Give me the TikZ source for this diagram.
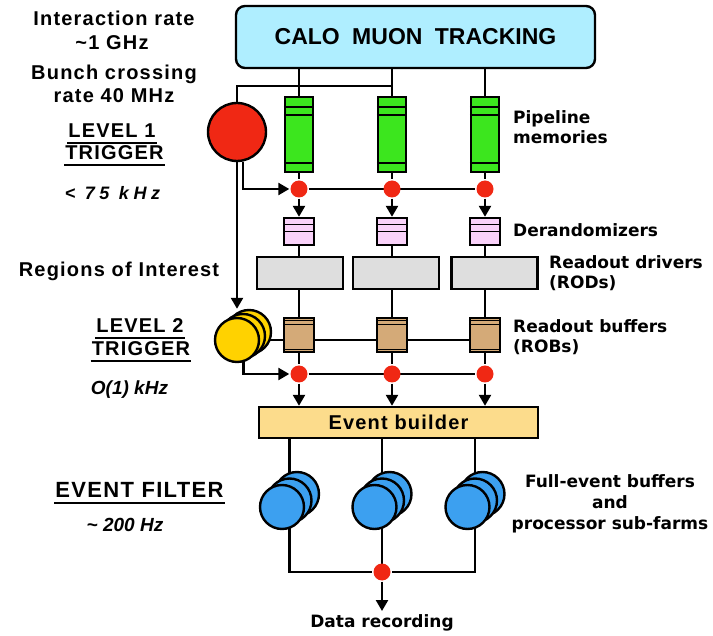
\documentclass[tikz,border=0pt]{standalone}
\usepackage{fontspec}
\setmainfont{Liberation Sans}
\newfontfamily\labfont[LetterSpace=6]{Liberation Sans}
\newfontfamily\widefont[LetterSpace=25]{Liberation Sans}
\newfontfamily\sidefont{DejaVu Sans}
\usetikzlibrary{arrows.meta,backgrounds}

\definecolor{detcol}{RGB}{175,238,255}
\definecolor{pipecol}{RGB}{60,230,30}
\definecolor{dotcol}{RGB}{240,40,20}
\definecolor{dercol}{RGB}{250,210,250}
\definecolor{rodcol}{RGB}{222,222,222}
\definecolor{robcol}{RGB}{212,170,120}
\definecolor{lvlcol}{RGB}{255,210,0}
\definecolor{ebcol}{RGB}{252,220,140}
\definecolor{efcol}{RGB}{60,160,240}

\tikzset{
  dettray/.style={draw, fill=detcol, rounded corners=9pt, minimum width=359pt, minimum height=62pt, inner sep=0pt, font=\fontsize{23}{27}\selectfont\bfseries},
  pipemem/.style={draw, fill=pipecol, minimum width=28pt, minimum height=75pt, inner sep=0pt},
  derand/.style={draw, fill=dercol, minimum width=30pt, minimum height=27pt, inner sep=0pt},
  roddrv/.style={draw, fill=rodcol, minimum width=86pt, minimum height=32pt, inner sep=0pt},
  robbuf/.style={draw, fill=robcol, minimum width=30pt, minimum height=34pt, inner sep=0pt},
  joint/.style={circle, fill=dotcol, minimum size=17pt, inner sep=0pt},
  lvlone/.style={circle, draw, fill=dotcol, minimum size=58pt, inner sep=0pt},
  lvltwo/.style={circle, draw, fill=lvlcol, minimum size=44pt, inner sep=0pt},
  farm/.style={circle, draw, fill=efcol, minimum size=44pt, inner sep=0pt},
  evbld/.style={draw, fill=ebcol, minimum width=279pt, minimum height=31pt, inner sep=0pt, font=\labfont\fontsize{20}{24}\selectfont\bfseries},
  wire/.style={line width=2.4pt},
  flow/.style={wire, -{Triangle[length=11pt,width=12pt]}},
  leftlab/.style={inner sep=0pt, text height=15pt, text depth=4pt, font=\labfont\fontsize{20}{24}\selectfont\bfseries},
  ratelab/.style={inner sep=0pt, text height=14pt, text depth=4pt, font=\fontsize{19}{23}\selectfont\bfseries\itshape},
  sidelab/.style={anchor=west, align=left, inner sep=0pt, font=\sidefont\fontsize{17}{20}\selectfont\bfseries},
}

\begin{document}
\begin{tikzpicture}[x=1pt,y=-1pt,line width=2.4pt]
    \useasboundingbox (0,0) rectangle (713,636);
    \node [dettray] (det) at (415.5,37) {CALO\hspace{6pt} MUON\hspace{6pt} TRACKING};
    \node [lvlone] (l1) at (237,132) {};
    \coordinate (jn) at (392,86);
    \foreach \c/\x in {1/299,2/392,3/485} {
        \node [pipemem] (pm\c) at (\x,134.5) {};
        \node [joint] (d\c) at (\x,189) {};
        \node [derand] (dr\c) at (\x,231.5) {};
        \node [robbuf] (rob\c) at (\x,335) {};
        \node [joint] (e\c) at (\x,374) {};
        \draw [line width=1.8pt] ([yshift=-11pt]pm\c.north west) -- ([yshift=-11pt]pm\c.north east);
        \draw [line width=1.8pt] ([yshift=-19pt]pm\c.north west) -- ([yshift=-19pt]pm\c.north east);
        \draw [line width=1.8pt] ([yshift=10pt]pm\c.south west) -- ([yshift=10pt]pm\c.south east);
        \draw [line width=1.4pt] ([yshift=-8pt]dr\c.north west) -- ([yshift=-8pt]dr\c.north east);
        \draw [line width=1.4pt] ([yshift=-15pt]dr\c.north west) -- ([yshift=-15pt]dr\c.north east);
        \draw [line width=1.2pt] ([yshift=-4pt]rob\c.north west) -- ([yshift=-4pt]rob\c.north east);
        \draw [line width=1.2pt] ([yshift=-8pt]rob\c.north west) -- ([yshift=-8pt]rob\c.north east);
        \draw [line width=1.2pt] ([yshift=4pt]rob\c.south west) -- ([yshift=4pt]rob\c.south east);
    }
    \foreach \c/\x in {1/300,2/396,3/494.5}
        \node [roddrv] (rod\c) at (\x,273) {};
    \node [lvltwo] (l2r) at (249,332) {};
    \node [lvltwo] (l2m) at (243,336) {};
    \node [lvltwo] (l2) at (237,340) {};
    \node [evbld] (eb) at (398.5,422.5) {Event builder};
    \foreach \c/\x in {1/289.5,2/382,3/475} {
        \node [farm] (efr\c) at (\x+7.5,494) {};
        \node [farm] (efm\c) at (\x,500.5) {};
        \node [farm] (ef\c) at (\x-7.5,507) {};
    }
    \node [joint] (dd) at (382,572) {};
    \node [sidelab, anchor=center, inner sep=2pt] (rec) at (382,622.5) {Data recording};

    \begin{scope}[on background layer]
        \foreach \c in {1,2,3} {
            \draw [wire] (det.south -| pm\c) -- (pm\c);
            \draw [wire] (pm\c) -- (d\c);
            \draw [wire] (dr\c) -- (rob\c);
            \draw [wire] (rob\c) -- (e\c);
            \draw [wire] (eb.south -| efm\c) -- (efm\c);
            \draw [wire] (efm\c) |- (dd);
        }
        \draw [wire] (d1) -- (d3);
        \draw [wire] (e1) -- (e3);
        \draw [wire] (l2) -- (l2 -| rob3);
        \draw [wire] (l1.north) |- (jn);
    \end{scope}
    \foreach \c in {1,2,3} {
        \draw [flow] (d\c) -- (dr\c);
        \draw [flow] (e\c) -- (eb.north -| e\c);
    }
    \draw [flow] (l1.-78) |- (d1);
    \draw [flow] (l1.south) -- (l2r.north -| l1.south);
    \draw [flow] (l2.-74) |- (e1);
    \draw [flow] (dd) -- (rec);

    \node [leftlab] (ir) at (114,20.5) {Interaction rate};
    \node [leftlab] (ghz) at (112,44.5) {\textasciitilde1 GHz};
    \node [leftlab] (bc) at (114,74.5) {Bunch crossing};
    \node [leftlab] (bcr) at (114,97) {rate 40 MHz};
    \node [leftlab] (lv1) at (112,132.5) {LEVEL 1};
    \node [leftlab] (tr1) at (114.5,154.5) {TRIGGER};
    \node [ratelab, font=\widefont\fontsize{18}{22}\selectfont\bfseries\itshape] (rt1) at (112.5,195) {< 75 kHz};
    \node [leftlab] (roi) at (119,271.5) {Regions of Interest};
    \node [leftlab] (lv2) at (140,327.5) {LEVEL 2};
    \node [leftlab] (tr2) at (141,350.5) {TRIGGER};
    \node [ratelab] (rt2) at (129.5,390) {O(1) kHz};
    \node [leftlab, text height=16pt, font=\labfont\fontsize{22}{26}\selectfont\bfseries] (efl) at (139.5,492) {EVENT FILTER};
    \node [ratelab] (rt3) at (125,527) {\textasciitilde{} 200 Hz};
    \foreach \n in {lv1,tr1,lv2,tr2,efl}
        \draw [line width=1.4pt] (\n.south west) -- (\n.south east);

    \node [sidelab] (pml) at (512,127) {Pipeline\\memories};
    \node [sidelab] (drl) at (512,230.5) {Derandomizers};
    \node [sidelab] (rodl) at (548,273) {Readout drivers\\(RODs)};
    \node [sidelab] (robl) at (512,337) {Readout buffers\\(ROBs)};
    \node [sidelab, anchor=center, align=center, font=\sidefont\fontsize{17}{21}\selectfont\bfseries] (efl2) at (610,503.5) {Full-event buffers\\and\\processor sub-farms};
\end{tikzpicture}
\end{document}
